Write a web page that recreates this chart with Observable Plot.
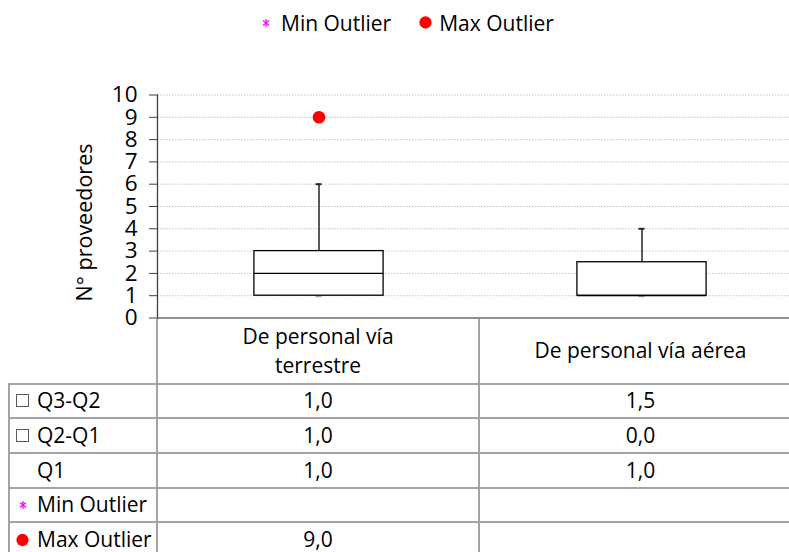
<!DOCTYPE html>
<html>
<head>
<meta charset="utf-8">
<script src="https://cdn.jsdelivr.net/npm/d3@7"></script>
<script src="https://cdn.jsdelivr.net/npm/@observablehq/plot@0.6"></script>
<style>
  html, body { margin: 0; padding: 0; background: #fff; overflow: hidden; }
  body { width: 789px; height: 552px; font-family: "Open Sans", "Noto Sans", sans-serif; color: #000; }
  #wrap { width: 803px; }
  #legend { height: 45px; display: flex; align-items: center; padding-left: 261px; box-sizing: border-box; font-size: 21px; }
  #legend .sym { display: block; }
  #legend .t1 { margin-left: 10px; }
  #legend .s2 { margin-left: 28px; }
  #legend .t2 { margin-left: 7px; }
  #chart svg { display: block; }
  #tbl { display: grid; grid-template-columns: 150px 322px 323px; grid-template-rows: 66px repeat(5, 34.7px); margin-left: 8px; width: 795px; }
  .c { box-sizing: border-box; border-right: 2px solid #a3a3a3; border-bottom: 2px solid #a3a3a3; display: flex; align-items: center; justify-content: center; font-size: 21px; line-height: 29px; text-align: center; white-space: nowrap; }
  .c.head { white-space: normal; }
  .c.head span { max-width: 225px; }
  .c.lab { border-left: 2px solid #a3a3a3; justify-content: flex-start; padding-left: 6px; }
  .c.lab.head { border-left: none; }
  .c.lab .slot { width: 13px; height: 14px; margin-right: 8px; display: flex; align-items: center; justify-content: center; }
</style>
</head>
<body>
<div id="wrap">
  <div id="legend"></div>
  <div id="chart"></div>
  <div id="tbl"></div>
</div>
<script>
// ---- data ----
const categories = ["De personal vía terrestre", "De personal vía aérea"];
const q1 = [1.0, 1.0];
const q2MinusQ1 = [1.0, 0.0];
const q3MinusQ2 = [1.0, 1.5];
const whiskerMin = [1, 1];
const whiskerMax = [6, 4];
const minOutlier = [null, null];
const maxOutlier = [9.0, null];
const yTicks = [0, 1, 2, 3, 4, 5, 6, 7, 8, 9, 10];
const yLabel = "N° proveedores";
const seriesNames = ["Q3-Q2", "Q2-Q1", "Q1", "Min Outlier", "Max Outlier"];

const FONT = '"Open Sans", "Noto Sans", sans-serif';

const rows = categories.map((c, i) => ({
  cat: c,
  q1: q1[i],
  q2: q1[i] + q2MinusQ1[i],
  q3: q1[i] + q2MinusQ1[i] + q3MinusQ2[i],
  lo: whiskerMin[i],
  hi: whiskerMax[i],
  minOut: minOutlier[i],
  maxOut: maxOutlier[i]
}));

// ---- symbols ----
const asteriskSVG = (w, h) => `<svg class="sym" width="${w}" height="${h}" viewBox="0 0 10 12"><g stroke="#ff00ff" stroke-width="1.3" fill="none"><line x1="5" y1="2" x2="5" y2="10"/><line x1="2" y1="3.5" x2="8" y2="8.5"/><line x1="8" y1="3.5" x2="2" y2="8.5"/></g></svg>`;
const dotSVG = (d) => `<svg class="sym" width="${d}" height="${d}" viewBox="0 0 14 14"><circle cx="7" cy="7" r="6.6" fill="#ff0000"/></svg>`;
const squareSVG = () => `<svg class="sym" width="13" height="13" viewBox="0 0 13 13"><rect x="0.5" y="0.5" width="12" height="12" fill="#fff" stroke="#595959" stroke-width="1"/></svg>`;

// ---- legend ----
document.getElementById("legend").innerHTML =
  `${asteriskSVG(10, 12)}<span class="t1">${seriesNames[3]}</span>` +
  `<span class="s2">${dotSVG(13)}</span><span class="t2">${seriesNames[4]}</span>`;

// ---- plot ----
const W = 803, ML = 157, MR = 0;
const bw = (W - ML - MR) / categories.length;
const boxInset = bw * 0.3;
const capInset = (bw - 6) / 2;

const chart = Plot.plot({
  width: W,
  height: 273.5,
  marginLeft: ML,
  marginRight: MR,
  marginTop: 49.5,
  marginBottom: 1,
  style: { fontFamily: FONT, fontSize: "21px", color: "#000", background: "#fff", overflow: "visible" },
  x: { type: "band", domain: categories, padding: 0, axis: null },
  y: { domain: [0, 10], axis: null },
  marks: [
    Plot.ruleY(yTicks.filter(t => t > 0), { stroke: "#c4c4c4", strokeDasharray: "1.5,1.5" }),
    Plot.ruleX(rows, { x: "cat", y1: "q3", y2: "hi", stroke: "#595959", strokeWidth: 2 }),
    Plot.ruleX(rows, { x: "cat", y1: "lo", y2: "q1", stroke: "#595959", strokeWidth: 2 }),
    Plot.tickY(rows, { x: "cat", y: "hi", stroke: "#262626", strokeWidth: 2, insetLeft: capInset, insetRight: capInset }),
    Plot.tickY(rows, { x: "cat", y: "lo", stroke: "#a6a6a6", strokeWidth: 3, insetLeft: capInset, insetRight: capInset }),
    Plot.barY(rows, { x: "cat", y1: "q1", y2: "q3", fill: "#fff", stroke: "#000", strokeWidth: 1.3, insetLeft: boxInset, insetRight: boxInset }),
    Plot.tickY(rows, { x: "cat", y: "q2", stroke: "#000", strokeWidth: 1.3, insetLeft: boxInset, insetRight: boxInset }),
    Plot.dot(rows.filter(d => d.maxOut != null), { x: "cat", y: "maxOut", r: 6.3, fill: "#ff0000", stroke: "none" }),
    Plot.dot(rows.filter(d => d.minOut != null), { x: "cat", y: "minOut", symbol: "asterisk", stroke: "#ff00ff", r: 4 }),
    Plot.ruleY([0], { stroke: "#8f8f8f", strokeWidth: 2 }),
    Plot.axisY({ ticks: yTicks, tickSize: 8, tickPadding: 12, label: null, stroke: "#404040", fontSize: 22.5, tickFormat: d3.format("d") }),
    Plot.frame({ anchor: "left", stroke: "#404040", strokeWidth: 1.3 }),
    Plot.text([yLabel], { frameAnchor: "left", textAnchor: "middle", rotate: -90, dx: -72, dy: 16, fontSize: 21.5, fill: "#000" })
  ]
});
document.getElementById("chart").appendChild(chart);

// ---- data table ----
const fmt = v => (v == null ? "" : v.toFixed(1).replace(".", ","));
const tableSeries = [q3MinusQ2, q2MinusQ1, q1, minOutlier, maxOutlier];
const tableSymbols = [squareSVG(), squareSVG(), "", asteriskSVG(10, 12), dotSVG(14)];
let html = `<div class="c lab head"></div>` + categories.map(c => `<div class="c head"><span>${c}</span></div>`).join("");
seriesNames.forEach((name, r) => {
  html += `<div class="c lab"><span class="slot">${tableSymbols[r]}</span><span>${name}</span></div>`;
  html += tableSeries[r].map(v => `<div class="c">${fmt(v)}</div>`).join("");
});
document.getElementById("tbl").innerHTML = html;
</script>
</body>
</html>
